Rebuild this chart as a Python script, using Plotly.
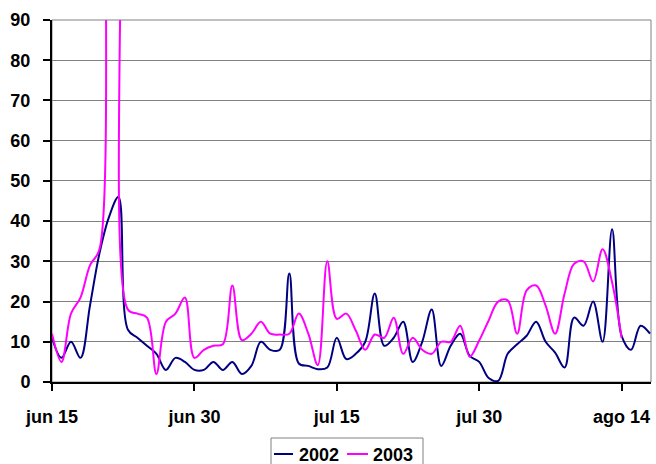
import plotly.graph_objects as go

# day index from jun 15 (0) to ago 17 (63)
days = list(range(64))
tick_days = [0, 15, 30, 45, 60]
tick_labels = ["jun 15", "jun 30", "jul 15", "jul 30", "ago 14"]

series_names = ["2002", "2003"]
series_colors = ["#000080", "#FF00FF"]

y2002 = [11, 6, 10, 6, 19, 32, 41, 46, 13, 11, 9, 7, 3, 6, 5, 3,
         3, 5, 3, 5, 2, 4, 10, 8, 8, 27, 4.6, 4, 3.2, 3.6,
         11, 5.7, 7, 10, 22, 9, 11, 15, 5, 10,
         18, 4, 9, 12, 6.5, 5, 1, 0.3, 7, 9.4,
         11.5, 15, 10, 7.3, 3.6, 16, 14, 20, 10, 38,
         11.5, 8, 14, 12]

y2003 = [12, 5, 17, 21, 29, 33, 150, 140, 18, 17, 16, 2, 15, 17, 21, 6,
         8, 9, 9.4, 24, 10.4, 12, 15, 12, 11.8, 12, 17, 12, 4.2, 30,
         15.7, 17, 12.8, 8, 11.8, 11, 16, 7, 11, 8,
         7, 10, 10, 14, 6.3, 10.3, 15.3, 20, 20.3, 12,
         22.8, 24, 19, 12, 22, 29.4, 30, 25, 33, 24.8,
         11]

font_family = "Arial, Liberation Sans, sans-serif"
tick_font = dict(family=font_family, size=18, color="black", weight="bold")

# plot area in pixels (for placing the hand-made legend)
W, H = 656, 464
ML, MR, MT, MB = 52, 5, 20, 82
PW, PH = W - ML - MR, H - MT - MB


def px(xpix):
    return (xpix - ML) / PW


def py(ypix):
    return (H - MB - ypix) / PH


fig = go.Figure()
for name, ys, col in zip(series_names, [y2002, y2003], series_colors):
    fig.add_trace(go.Scatter(x=days[:len(ys)], y=ys, name=name, mode="lines",
                             line=dict(color=col, width=2, shape="spline", smoothing=1),
                             showlegend=False))

shapes = [dict(type="rect", xref="paper", yref="paper", x0=0, x1=1, y0=0, y1=1,
               line=dict(color="#808080", width=1), layer="below")]
annotations = []

# legend box
shapes.append(dict(type="rect", xref="paper", yref="paper",
                   x0=px(271), x1=px(423), y0=py(472), y1=py(438),
                   line=dict(color="#808080", width=1), fillcolor="white", layer="above"))
leg_items = [(274, 293, 297), (347, 368, 371)]
for (lx0, lx1, tx), name, col in zip(leg_items, series_names, series_colors):
    shapes.append(dict(type="line", xref="paper", yref="paper",
                       x0=px(lx0), x1=px(lx1), y0=py(454), y1=py(454),
                       line=dict(color=col, width=2)))
    annotations.append(dict(xref="paper", yref="paper", x=px(tx), y=py(455),
                            xanchor="left", yanchor="middle", showarrow=False,
                            text=name, font=dict(family=font_family, size=18, color="black", weight="bold")))

fig.update_layout(
    width=W, height=H,
    margin=dict(l=ML, r=MR, t=MT, b=MB, autoexpand=False),
    paper_bgcolor="white", plot_bgcolor="white",
    font=dict(family=font_family, size=18, color="black", weight="bold"),
    showlegend=False,
    shapes=shapes,
    annotations=annotations,
)

fig.update_xaxes(range=[0, 63.1], tickmode="array", tickvals=tick_days, ticktext=tick_labels,
                 showgrid=False, zeroline=False, showline=True, linecolor="black", linewidth=2,
                 ticks="outside", ticklen=7, tickwidth=2, tickcolor="black",
                 automargin=False, ticklabelstandoff=10, tickfont=tick_font)
fig.update_yaxes(range=[0, 90], dtick=10, tick0=0,
                 showgrid=True, gridcolor="#808080", gridwidth=1, zeroline=False,
                 showline=True, linecolor="black", linewidth=2,
                 ticks="outside", ticklen=7, tickwidth=2, tickcolor="black",
                 automargin=False, ticklabelstandoff=9, tickfont=tick_font)

fig.write_html("out.html", config={"displayModeBar": False},
               post_script="document.body.style.margin='0';document.body.style.padding='0';")
